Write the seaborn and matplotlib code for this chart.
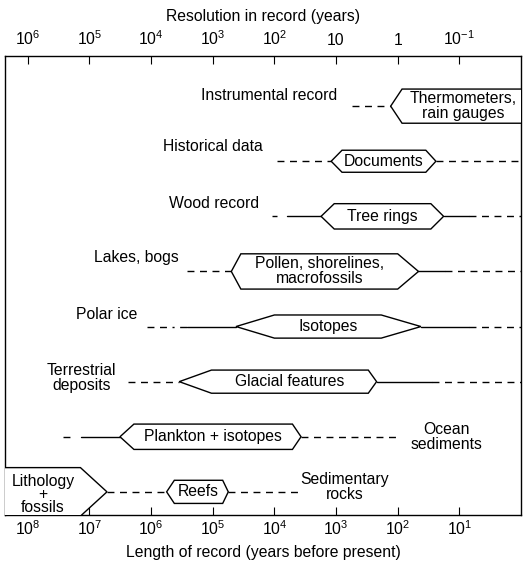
# climate archives: length of record vs resolution

import numpy as np
import pandas as pd
import matplotlib
matplotlib.use('Agg')
import matplotlib.pyplot as plt
import seaborn as sns


# archives, top to bottom
archives = ['Instrumental record', 'Historical data', 'Wood record', 'Lakes, bogs',
            'Polar ice', 'Terrestrial\ndeposits', 'Ocean\nsediments', 'Sedimentary\nrocks']
proxies = ['Thermometers,\nrain gauges', 'Documents', 'Tree rings',
           'Pollen, shorelines,\nmacrofossils', 'Isotopes', 'Glacial features',
           'Plankton + isotopes', 'Reefs']

# hexagon outline (years before present): old tip, old shoulder, young shoulder, young tip
hex_tip_old = [130, 1200, 1750, 5e4, 4.2e4, 3.5e5, 3.2e6, 5.6e5]
hex_flat_old = [85, 800, 1070, 3.5e4, 1e4, 1.05e5, 1.9e6, 4.2e5]
hex_flat_young = [0.3, 35, 29, 100, 185, 300, 5100, 6.9e4]
hex_tip_young = [0.2, 24, 18, 46, 42, 220, 3700, 5.6e4]

# lithology + fossils box on the bottom row
litho_flat = 1.4e7
litho_tip = 5.2e6

# line segments (row, from, to, kind)
seg_row = [0, 1, 1, 2, 2, 2, 2, 3, 3, 3, 4, 4, 4, 4, 5, 5, 5, 6, 6, 6, 7, 7]
seg_from = [550, 9000, 24, 1.1e4, 6200, 18, 7, 2.6e5, 46, 17, 1.15e6, 2.6e5, 42, 7,
            2.4e6, 220, 28, 2.7e7, 1.35e7, 3700, 5.2e6, 5.6e4]
seg_to = [130, 1200, 1, 9000, 1750, 7, 1, 5e4, 17, 1, 2.6e5, 4.2e4, 7, 1,
          3.5e5, 28, 1, 2e7, 3.2e6, 100, 5.6e5, 4000]
seg_kind = ['dashed', 'dashed', 'dashed', 'dashed', 'solid', 'solid', 'dashed',
            'dashed', 'solid', 'dashed', 'dashdot', 'solid', 'solid', 'dashed',
            'dashed', 'solid', 'dashed', 'dashed', 'solid', 'dashed', 'dashed', 'dashed']

bottom_ticks = [1e8, 1e7, 1e6, 1e5, 1e4, 1e3, 1e2, 1e1]
bottom_labels = ['8', '7', '6', '5', '4', '3', '2', '1']
top_ticks = [1e6, 1e5, 1e4, 1e3, 1e2, 1e1, 1, 1e-1]
top_labels = [r'$\mathregular{10^6}$', r'$\mathregular{10^5}$', r'$\mathregular{10^4}$',
              r'$\mathregular{10^3}$', r'$\mathregular{10^2}$', '10', '1',
              r'$\mathregular{10^{-1}}$']

# layout of the archive names: x (years), row offset, alignment
name_x = [950, 1.55e4, 1.8e4, 3.5e5, 1.7e6, 1.33e7, 16, 720]
name_dy = [-0.2, -0.26, -0.24, -0.26, -0.21, -0.07, 0.0, -0.09]
name_ha = ['right', 'right', 'right', 'right', 'right', 'center', 'center', 'center']
hex_half = [0.31, 0.2, 0.23, 0.32, 0.21, 0.21, 0.23, 0.21]

sns.set_theme(style='white')
plt.rcParams['font.family'] = ['Liberation Sans', 'DejaVu Sans']
plt.rcParams['text.color'] = 'black'
plt.rcParams['axes.labelcolor'] = 'black'
plt.rcParams['xtick.color'] = 'black'
plt.rcParams['xtick.labelcolor'] = 'black'
FS = 11.3

fig = plt.figure(figsize=(5.24, 5.67), dpi=100)
ax = fig.add_axes([5 / 524, 1 - 515 / 567, 516 / 524, 459 / 567])
ax.set_xscale('log')
ax.set_xlim(10 ** 8.37, 1)
ax.set_ylim(7.42, -0.91)

# connecting lines
rows = []
for i, (r, a, b, k) in enumerate(zip(seg_row, seg_from, seg_to, seg_kind)):
    rows.append({'x': a, 'row': r, 'seg': i, 'kind': k})
    rows.append({'x': b, 'row': r, 'seg': i, 'kind': k})
df = pd.DataFrame(rows)
sns.lineplot(data=df, x='x', y='row', units='seg', style='kind', estimator=None,
             sort=False, color='black', linewidth=1.0, legend=False, ax=ax,
             dashes={'solid': '', 'dashed': (5, 4), 'dashdot': (5, 4, 5, 4, 1.5, 4)})

# hexagon boxes
for i in range(len(proxies)):
    h = hex_half[i]
    xs = [hex_tip_old[i], hex_flat_old[i], hex_flat_young[i], hex_tip_young[i],
          hex_flat_young[i], hex_flat_old[i]]
    ys = [i, i - h, i - h, i, i + h, i + h]
    ax.fill(xs, ys, facecolor='white', edgecolor='black', lw=1.0, zorder=3)
    xc = np.sqrt(hex_flat_old[i] * max(hex_flat_young[i], 1.5))
    if i == 0:
        xc = np.sqrt(hex_flat_old[i] * 1.0) * 0.95
    ax.text(xc, i, proxies[i], ha='center', va='center', fontsize=FS,
            linespacing=1.0, zorder=4)

# lithology box, cut by the frame
ax.fill([1e9, litho_flat, litho_tip, litho_flat, 1e9], [7 - 0.44, 7 - 0.44, 7, 7 + 0.44, 7 + 0.44],
        facecolor='white', edgecolor='black', lw=1.0, zorder=3)
ax.text(5.7e7, 7.05, 'Lithology\n+\nfossils', ha='center', va='center', fontsize=FS,
        linespacing=0.85, zorder=4)

# archive names
for i, name in enumerate(archives):
    ax.text(name_x[i], i + name_dy[i], name, ha=name_ha[i], va='center', fontsize=FS,
            linespacing=1.0)

# axes
ax.xaxis.set_minor_locator(matplotlib.ticker.NullLocator())
ax.set_xticks(bottom_ticks)
ax.set_xticklabels([r'$\mathregular{10^%s}$' % s for s in bottom_labels], fontsize=FS)
ax.set_yticks([])
ax.set_ylabel('')
ax.set_xlabel('Length of record (years before present)', fontsize=FS, labelpad=5)
ax.tick_params(axis='x', direction='in', length=6, width=0.8, color='black', pad=3,
               bottom=True)

sec = ax.secondary_xaxis('top', functions=(lambda x: x / 100, lambda x: x * 100))
sec.xaxis.set_minor_locator(matplotlib.ticker.NullLocator())
sec.set_xticks(top_ticks)
sec.set_xticklabels(top_labels, fontsize=FS)
sec.tick_params(axis='x', direction='in', length=6, width=0.8, color='black', pad=5.5)
sec.set_xlabel('Resolution in record (years)', fontsize=FS, labelpad=6)
sec.spines['top'].set_visible(False)

for s in ax.spines.values():
    s.set_color('black')
    s.set_linewidth(1.0)

fig.savefig('out.png', dpi=100)
